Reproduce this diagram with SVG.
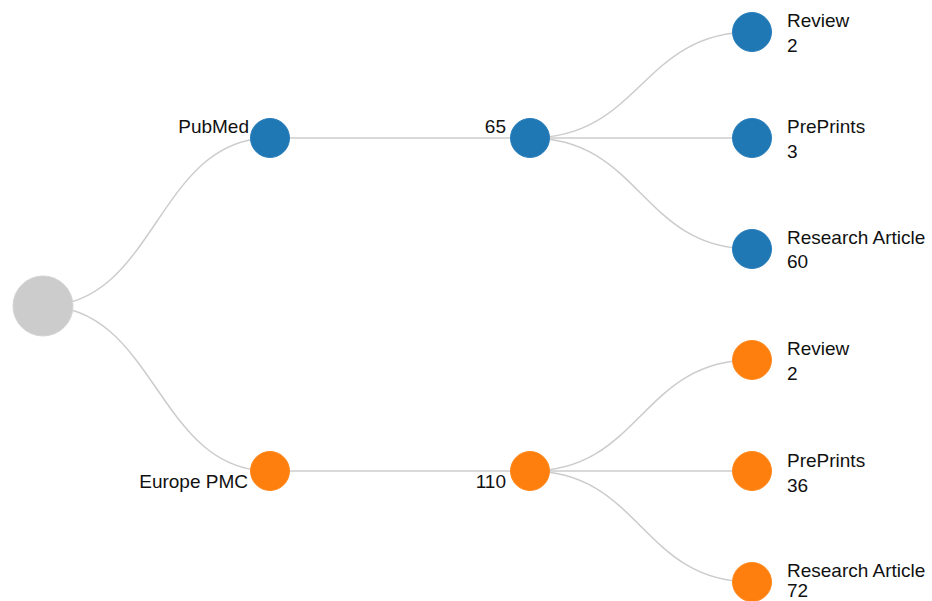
<svg xmlns="http://www.w3.org/2000/svg" width="932" height="601" viewBox="0 0 932 601">
<style>
.link{fill:none;stroke:#cccccc;stroke-width:1.5}
.blue{fill:#1f77b4;stroke:#2a7fbd;stroke-width:1}
.orange{fill:#ff7f0e;stroke:#ff8a20;stroke-width:1}
.root{fill:#cccccc;stroke:#d4d4d4;stroke-width:1}
text{font-family:"Liberation Sans",Arial,sans-serif;font-size:19px;fill:#111}
.end{text-anchor:end}
</style>
<rect width="932" height="601" fill="#ffffff"/>
<g id="connectors">
<path class="link" d="M43,306 C156.5,306 156.5,138 270,138"/>
<path class="link" d="M43,306 C156.5,306 156.5,471 270,471"/>
<path class="link" d="M270,138 L530,138"/>
<path class="link" d="M270,471 L530,471"/>
<path class="link" d="M530,138 C641,138 641,32 752,32"/>
<path class="link" d="M530,138 L752,138"/>
<path class="link" d="M530,138 C641,138 641,249 752,249"/>
<path class="link" d="M530,471 C641,471 641,360 752,360"/>
<path class="link" d="M530,471 L752,471"/>
<path class="link" d="M530,471 C641,471 641,582 752,582"/>
</g>
<g id="root"><circle class="root" cx="43" cy="306" r="30"/></g>
<g id="pubmed"><circle class="blue" cx="270" cy="138" r="19.5"/><text class="end" x="249" y="133">PubMed</text></g>
<g id="pubmed-total"><circle class="blue" cx="530" cy="138" r="19.5"/><text class="end" x="506" y="133">65</text></g>
<g id="pubmed-review"><circle class="blue" cx="752" cy="32" r="19.5"/><text x="787" y="27">Review</text><text x="787" y="52">2</text></g>
<g id="pubmed-preprints"><circle class="blue" cx="752" cy="138" r="19.5"/><text x="787" y="133">PrePrints</text><text x="787" y="158">3</text></g>
<g id="pubmed-research"><circle class="blue" cx="752" cy="249" r="19.5"/><text x="787" y="244">Research Article</text><text x="787" y="268">60</text></g>
<g id="europepmc"><circle class="orange" cx="270" cy="471" r="19.5"/><text class="end" x="248" y="488">Europe PMC</text></g>
<g id="europepmc-total"><circle class="orange" cx="530" cy="471" r="19.5"/><text class="end" x="506" y="488">110</text></g>
<g id="europepmc-review"><circle class="orange" cx="752" cy="360" r="19.5"/><text x="787" y="355">Review</text><text x="787" y="380">2</text></g>
<g id="europepmc-preprints"><circle class="orange" cx="752" cy="471" r="19.5"/><text x="787" y="467">PrePrints</text><text x="787" y="492">36</text></g>
<g id="europepmc-research"><circle class="orange" cx="752" cy="582" r="19.5"/><text x="787" y="577">Research Article</text><text x="787" y="597">72</text></g>
</svg>
